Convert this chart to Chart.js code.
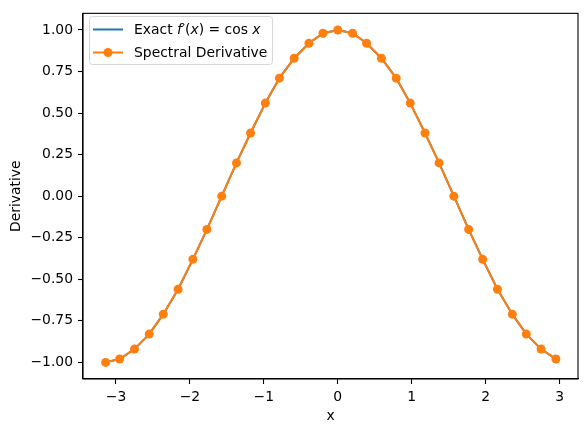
<!DOCTYPE html>
<html lang="en">
<head>
    <meta charset="UTF-8">
    <title>Spectral Derivative</title>
    <script src="https://cdn.jsdelivr.net/npm/chart.js"></script>
    <style>
        html, body { margin: 0; padding: 0; background: #fff; }
        #wrap { width: 587px; height: 432px; }
    </style>
</head>
<body>
<div id="wrap"><canvas id="derivChart" width="587" height="432"></canvas></div>
<script>
    // sample points
    const xValues = [-3.14, -2.95, -2.75, -2.55, -2.36, -2.16, -1.96, -1.77, -1.57, -1.37, -1.18, -0.98,
        -0.79, -0.59, -0.39, -0.20, 0.00, 0.20, 0.39, 0.59, 0.79, 0.98, 1.18, 1.37, 1.57, 1.77, 1.96,
        2.16, 2.36, 2.55, 2.75, 2.95];
    const exactValues = [-1.00, -0.98, -0.92, -0.83, -0.71, -0.56, -0.38, -0.20, 0.00, 0.20, 0.38, 0.56,
        0.71, 0.83, 0.92, 0.98, 1.00, 0.98, 0.92, 0.83, 0.71, 0.56, 0.38, 0.20, 0.00, -0.20, -0.38,
        -0.56, -0.71, -0.83, -0.92, -0.98];
    const spectralValues = [-1.00, -0.98, -0.92, -0.83, -0.71, -0.56, -0.38, -0.20, 0.00, 0.20, 0.38, 0.56,
        0.71, 0.83, 0.92, 0.98, 1.00, 0.98, 0.92, 0.83, 0.71, 0.56, 0.38, 0.20, 0.00, -0.20, -0.38,
        -0.56, -0.71, -0.83, -0.92, -0.98];
    const xTicks = [-3, -2, -1, 0, 1, 2, 3];
    const yTicks = [-1.00, -0.75, -0.50, -0.25, 0.00, 0.25, 0.50, 0.75, 1.00];

    const BLUE = '#1f77b4';
    const ORANGE = '#ff7f0e';
    const FONT = 'DejaVu Sans';

    const toPoints = ys => xValues.map((x, i) => ({ x: x, y: ys[i] }));
    const minusSign = s => String(s).replace('-', '\u2212');

    // frame around the plot area + legend box
    const framePlugin = {
        id: 'frame',
        afterDraw(chart) {
            const ctx = chart.ctx;
            const a = chart.chartArea;
            ctx.save();
            ctx.strokeStyle = '#000';
            ctx.lineWidth = 1.1;
            ctx.strokeRect(a.left, a.top, a.right - a.left, a.bottom - a.top);

            // legend
            const lx = 89.5, ly = 16.5, lw = 183, lh = 48;
            ctx.fillStyle = 'rgba(255,255,255,0.8)';
            ctx.strokeStyle = '#d6d6d6';
            ctx.lineWidth = 1;
            ctx.beginPath();
            ctx.roundRect(lx, ly, lw, lh, 3);
            ctx.fill();
            ctx.stroke();

            ctx.lineWidth = 2;
            ctx.strokeStyle = BLUE;
            ctx.beginPath();
            ctx.moveTo(93, 29.5);
            ctx.lineTo(123, 29.5);
            ctx.stroke();

            ctx.strokeStyle = ORANGE;
            ctx.beginPath();
            ctx.moveTo(93, 52.5);
            ctx.lineTo(123, 52.5);
            ctx.stroke();
            ctx.fillStyle = ORANGE;
            ctx.beginPath();
            ctx.arc(108, 52.5, 4.5, 0, Math.PI * 2);
            ctx.fill();

            ctx.fillStyle = '#000';
            ctx.textBaseline = 'middle';
            ctx.textAlign = 'left';
            let tx = 134;
            const parts = [
                ['Exact ', 'normal'], ['f', 'italic'], ['\u2032(', 'normal'], ['x', 'italic'],
                [') = cos ', 'normal'], ['x', 'italic']
            ];
            parts.forEach(p => {
                ctx.font = p[1] + ' 13.9px "' + FONT + '"';
                ctx.fillText(p[0], tx, 30);
                tx += ctx.measureText(p[0]).width;
            });
            ctx.font = '13.9px "' + FONT + '"';
            ctx.fillText('Spectral Derivative', 134, 53);
            ctx.restore();
        }
    };

    const ctx = document.getElementById('derivChart').getContext('2d');
    new Chart(ctx, {
        type: 'line',
        data: {
            datasets: [{
                label: 'Spectral Derivative',
                data: toPoints(spectralValues),
                borderColor: ORANGE,
                backgroundColor: ORANGE,
                borderWidth: 2,
                pointRadius: 4.5,
                pointHoverRadius: 4.5,
                pointBorderWidth: 0,
                tension: 0,
                order: 0
            }, {
                label: 'Exact f\u2032(x) = cos x',
                data: toPoints(exactValues),
                borderColor: BLUE,
                backgroundColor: BLUE,
                borderWidth: 2,
                pointRadius: 0,
                tension: 0,
                order: 1
            }]
        },
        options: {
            responsive: false,
            animation: false,
            events: [],
            layout: { padding: { top: 9, right: 9, left: 0, bottom: 0 } },
            plugins: {
                legend: { display: false },
                tooltip: { enabled: false }
            },
            scales: {
                x: {
                    type: 'linear',
                    min: -3.446,
                    max: 3.249,
                    afterBuildTicks: axis => { axis.ticks = xTicks.map(v => ({ value: v })); },
                    afterFit: axis => { axis.height = 53; },
                    grid: { drawOnChartArea: false, tickLength: 5, tickColor: '#000', tickWidth: 1.1 },
                    border: { color: '#000', width: 1.1 },
                    ticks: {
                        color: '#000',
                        padding: 5,
                        maxRotation: 0,
                        font: { family: FONT, size: 13.9 },
                        callback: v => minusSign(v)
                    },
                    title: {
                        display: true,
                        text: 'x',
                        color: '#000',
                        font: { family: FONT, size: 13.9 },
                        padding: { top: 2, bottom: 7 }
                    }
                },
                y: {
                    type: 'linear',
                    min: -1.1,
                    max: 1.1,
                    afterBuildTicks: axis => { axis.ticks = yTicks.map(v => ({ value: v })); },
                    afterFit: axis => { axis.width = 83; },
                    grid: { drawOnChartArea: false, tickLength: 5, tickColor: '#000', tickWidth: 1.1 },
                    border: { color: '#000', width: 1.1 },
                    ticks: {
                        color: '#000',
                        padding: 5,
                        font: { family: FONT, size: 13.9 },
                        callback: v => minusSign(Number(v).toFixed(2))
                    },
                    title: {
                        display: true,
                        text: 'Derivative',
                        color: '#000',
                        font: { family: FONT, size: 13.9 },
                        padding: { top: 8, bottom: 0 }
                    }
                }
            }
        },
        plugins: [framePlugin]
    });
</script>
</body>
</html>
